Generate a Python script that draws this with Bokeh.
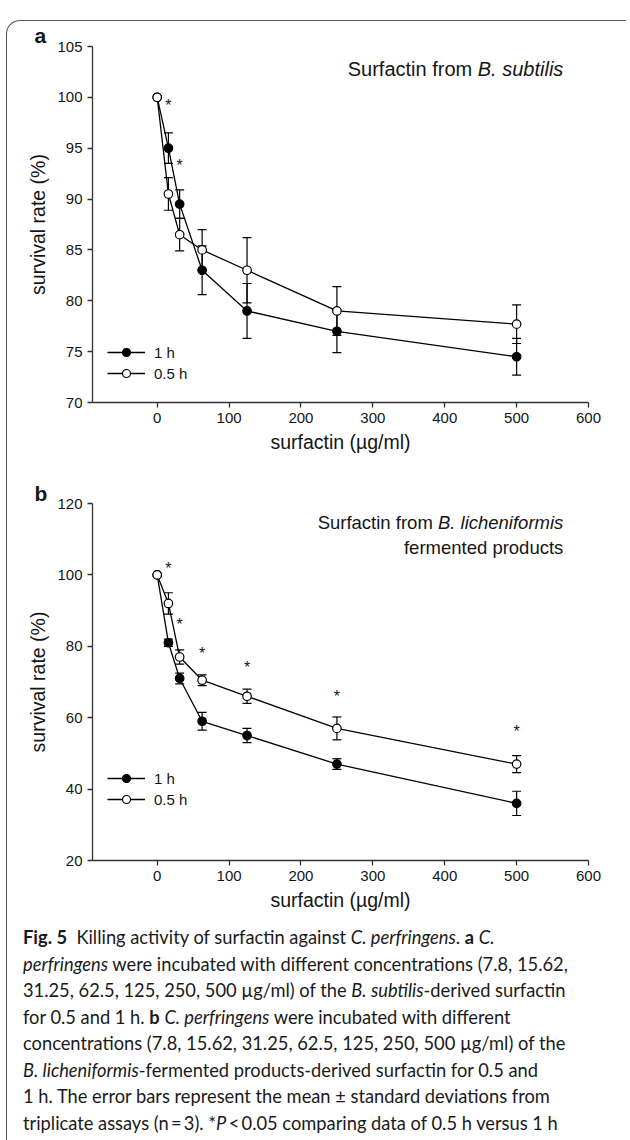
from bokeh.plotting import figure
from bokeh.models import (Whisker, TeeHead, ColumnDataSource, FixedTicker, Label,
                          Legend, LegendItem, Div, Range1d)
from bokeh.layouts import column
from bokeh.embed import file_html
from bokeh.resources import INLINE
from bokeh.core.properties import value

# ---------------- data ----------------
conc = [0, 15.62, 31.25, 62.5, 125, 250, 500]

# panel a: B. subtilis surfactin
a_1h = [100, 95.0, 89.5, 83.0, 79.0, 77.0, 74.5]
a_1h_sd = [0, 1.5, 1.4, 2.4, 2.7, 2.1, 1.8]
a_05h = [100, 90.5, 86.5, 85.0, 83.0, 79.0, 77.7]
a_05h_sd = [0, 1.6, 1.6, 2.0, 3.2, 2.4, 1.9]
a_star_x = [15.62, 31.25]
a_star_y = [99.5, 93.6]

# panel b: B. licheniformis fermented products surfactin
b_1h = [100, 81.0, 71.0, 59.0, 55.0, 47.0, 36.0]
b_1h_sd = [0, 1.0, 1.5, 2.5, 2.0, 1.5, 3.4]
b_05h = [100, 92.0, 77.0, 70.5, 66.0, 57.0, 47.0]
b_05h_sd = [0, 3.0, 2.0, 1.5, 2.0, 3.2, 2.4]
b_star_x = [15.62, 31.25, 62.5, 125, 250, 500]
b_star_y = [102.5, 87.0, 78.8, 74.9, 66.8, 56.9]

x_ticks = [0, 100, 200, 300, 400, 500, 600]
a_y_ticks = [70, 75, 80, 85, 90, 95, 100, 105]
b_y_ticks = [20, 40, 60, 80, 100, 120]

FONT = "Liberation Sans"
TXT = "#151515"

# Arial / Liberation Sans advance widths (em) used to butt italic text to roman text
EM_SPACE = 0.278
EM_BSUB = 4.279
EM_BLICH = 6.779


def make_panel(letter, letter_standoff, ylo, yhi, yticks, s1, e1, s05, e05,
               star_x, star_y, title_lines, title_y, title_fs, legend_bottom,
               height, top, bottom):
    p = figure(width=614, height=height, x_range=Range1d(-90, 600),
               y_range=Range1d(ylo, yhi), output_backend="svg",
               toolbar_location=None, min_border_left=92, min_border_right=26,
               min_border_top=top, min_border_bottom=bottom)
    p.outline_line_color = None
    p.xgrid.grid_line_color = None
    p.ygrid.grid_line_color = None
    p.background_fill_color = None
    p.border_fill_color = None

    # panel letter as title
    p.title.text = letter
    p.title.align = "left"
    p.title.offset = -58
    p.title.standoff = letter_standoff
    p.title.text_font = FONT
    p.title.text_font_style = "bold"
    p.title.text_font_size = "21px"
    p.title.text_color = TXT

    for ax in (p.xaxis[0], p.yaxis[0]):
        ax.axis_line_color = "#333333"
        ax.axis_line_width = 1.3
        ax.major_tick_line_color = "#333333"
        ax.major_tick_line_width = 1.3
        ax.major_tick_out = 5
        ax.major_tick_in = 0
        ax.minor_tick_line_color = None
        ax.major_label_text_font = FONT
        ax.major_label_text_font_size = "15px"
        ax.major_label_text_color = TXT
        ax.axis_label_text_font = FONT
        ax.axis_label_text_font_size = "19.5px"
        ax.axis_label_text_font_style = "normal"
        ax.axis_label_text_color = TXT
    p.xaxis.ticker = FixedTicker(ticks=x_ticks)
    p.yaxis.ticker = FixedTicker(ticks=yticks)
    p.xaxis.axis_label = "surfactin (\u00b5g/ml)"
    p.yaxis.axis_label = "survival rate (%)"
    p.xaxis.major_label_standoff = 5
    p.xaxis.axis_label_standoff = 5
    p.yaxis.major_label_standoff = 5
    p.yaxis.axis_label_standoff = 5

    # error bars
    for ys, es in ((s1, e1), (s05, e05)):
        bx = [x for x, e in zip(conc, es) if e > 0]
        up = [y + e for y, e in zip(ys, es) if e > 0]
        lo = [y - e for y, e in zip(ys, es) if e > 0]
        src = ColumnDataSource(dict(x=bx, upper=up, lower=lo))
        w = Whisker(base="x", upper="upper", lower="lower", source=src,
                    line_color="black", line_width=1.2,
                    upper_head=TeeHead(size=9, line_color="black", line_width=1.2),
                    lower_head=TeeHead(size=9, line_color="black", line_width=1.2))
        p.add_layout(w)

    l1 = p.line(conc, s1, line_color="black", line_width=1.3)
    l05 = p.line(conc, s05, line_color="black", line_width=1.3)
    m1 = p.scatter(conc, s1, marker="circle", size=8.5, fill_color="black",
                   line_color="black", line_width=1.2)
    m05 = p.scatter(conc, s05, marker="circle", size=8.5, fill_color="white",
                    line_color="black", line_width=1.2)

    p.text(x=star_x, y=star_y, text=["*"] * len(star_x), text_font=value(FONT),
           text_font_size=value("16px"), text_align="center",
           text_baseline="middle", text_color=TXT, y_offset=3)

    # titles (mixed roman / italic), right aligned
    for i, parts in enumerate(title_lines):
        ty = title_y[i]
        offset = 0.0
        for txt, style, w_em in reversed(parts):
            p.add_layout(Label(x=565, y=ty, x_offset=-offset, text=txt,
                               text_font=FONT, text_font_style=style,
                               text_font_size="%.1fpx" % title_fs,
                               text_align="right", text_baseline="middle",
                               text_color=TXT))
            offset += w_em * title_fs

    leg = Legend(items=[LegendItem(label="1 h", renderers=[l1, m1]),
                        LegendItem(label="0.5 h", renderers=[l05, m05])],
                 location=(15, legend_bottom), orientation="vertical",
                 glyph_width=38, glyph_height=20, label_height=20, spacing=1,
                 padding=0, margin=0, label_standoff=9,
                 label_text_font=FONT, label_text_font_size="15px",
                 label_text_color=TXT,
                 background_fill_alpha=0, border_line_alpha=0)
    p.add_layout(leg)
    return p


pa = make_panel("a", 0, 70, 105, a_y_ticks, a_1h, a_1h_sd, a_05h, a_05h_sd,
                a_star_x, a_star_y,
                [[("Surfactin from", "normal", 0),
                  ("B. subtilis", "italic", EM_BSUB + EM_SPACE)]],
                [102.8], 20.0, legend_bottom=19, height=453, top=32, bottom=65)

pb = make_panel("b", -3, 20, 120, b_y_ticks, b_1h, b_1h_sd, b_05h, b_05h_sd,
                b_star_x, b_star_y,
                [[("Surfactin from", "normal", 0),
                  ("B. licheniformis", "italic", EM_BLICH + EM_SPACE)],
                 [("fermented products", "normal", 0)]],
                [114.7, 107.8], 18.5, legend_bottom=51, height=452, top=36, bottom=59)

# rounded frame around the whole figure (left + top edges visible)
frame = Div(text='<div style="position:absolute;width:620px;height:1124px;'
                 'margin:3px 0 0 1px;border-left:1.5px solid #555555;'
                 'border-top:1.5px solid #555555;border-top-left-radius:14px;'
                 'box-sizing:border-box;pointer-events:none;z-index:10;"></div>',
            width=614, height=4, styles={"overflow": "visible"})

caption_html = (
    "<b>Fig.&nbsp;5</b>&nbsp;&nbsp;Killing activity of surfactin against <i>C. perfringens</i>. <b>a</b> <i>C.</i><br>"
    "<i>perfringens</i> were incubated with different concentrations (7.8, 15.62,<br>"
    "31.25, 62.5, 125, 250, 500&nbsp;\u00b5g/ml) of the <i>B. subtilis</i>-derived surfactin<br>"
    "for 0.5 and 1&nbsp;h. <b>b</b> <i>C. perfringens</i> were incubated with different<br>"
    "concentrations (7.8, 15.62, 31.25, 62.5, 125, 250, 500&nbsp;\u00b5g/ml) of the<br>"
    "<i>B. licheniformis</i>-fermented products-derived surfactin for 0.5 and<br>"
    "1&nbsp;h. The error bars represent the mean&nbsp;\u00b1&nbsp;standard deviations from<br>"
    "triplicate assays (n&#8201;=&#8201;3). *<i>P</i>&#8201;&lt;&#8201;0.05 comparing data of 0.5&nbsp;h versus 1&nbsp;h"
)
cap = Div(text=caption_html, width=614, height=205,
          styles={"font-family": "Lato", "font-size": "18.3px",
                  "line-height": "26.5px", "padding-left": "18px",
                  "color": "#1a1a1a", "white-space": "nowrap",
                  "overflow": "visible"})

layout = column(frame, pa, pb, cap, spacing=0)

open("out.html", "w").write(file_html(layout, INLINE))
